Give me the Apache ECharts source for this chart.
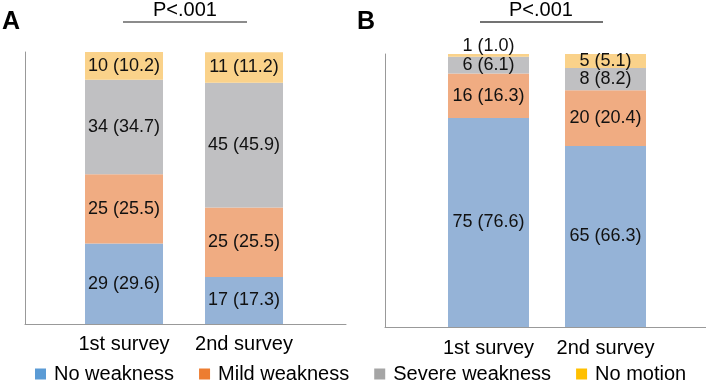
<!DOCTYPE html>
<html>
<head>
<meta charset="utf-8">
<script src="https://cdn.jsdelivr.net/npm/echarts@6/dist/echarts.min.js"></script>
<style>
  html, body { margin: 0; padding: 0; background: #fff; }
  #main { width: 706px; height: 381px; }
</style>
</head>
<body>
<div id="main"></div>
<script>
// data: n (%) per level, [1st survey, 2nd survey]
var categories = ['1st survey', '2nd survey'];
var levels = ['No weakness', 'Mild weakness', 'Severe weakness', 'No motion'];

var countsA = [[29, 17], [25, 25], [34, 45], [10, 11]];
var pctA = [[29.6, 17.3], [25.5, 25.5], [34.7, 45.9], [10.2, 11.2]];

var countsB = [[75, 65], [16, 20], [6, 8], [1, 5]];
var pctB = [[76.6, 66.3], [16.3, 20.4], [6.1, 8.2], [1.0, 5.1]];

var pText = 'P<.001';

var barColors = ['#95B3D7', '#F0AC82', '#C0C0C2', '#FAD28A'];
var legendColors = ['#5B9BD5', '#ED7D31', '#A5A5A5', '#FFC000'];
var font = 'Liberation Sans, Arial, sans-serif';

var chart = echarts.init(document.getElementById('main'));

// frame grids carry the axis lines, data grids carry the bars
var grids = [
  { left: 25, top: 52, width: 321, height: 272 },   // A frame
  { left: 64, top: 52, width: 240, height: 272 },   // A bars
  { left: 385, top: 54, width: 321, height: 273 },  // B frame
  { left: 430, top: 54, width: 234, height: 273 }   // B bars
];

function frameAxis(idx) {
  return {
    type: 'value', gridIndex: idx, min: 0, max: 1,
    axisLine: { show: true, lineStyle: { color: '#999', width: 1 } },
    axisTick: { show: false }, axisLabel: { show: false }, splitLine: { show: false }
  };
}
function catAxis(idx, margin) {
  return {
    type: 'category', gridIndex: idx, data: categories,
    axisLine: { show: false }, axisTick: { show: false },
    axisLabel: { interval: 0, fontSize: 20, color: '#000', fontFamily: font, margin: margin }
  };
}
function valAxis(idx) {
  return { type: 'value', gridIndex: idx, min: 0, max: 100, show: false };
}

function makeSeries(counts, pcts, axisIdx, stack, barWidth) {
  return levels.map(function (name, i) {
    return {
      name: name,
      type: 'bar',
      stack: stack,
      xAxisIndex: axisIdx,
      yAxisIndex: axisIdx,
      barWidth: barWidth,
      itemStyle: { color: barColors[i] },
      data: pcts[i].map(function (v) {
        var item = { value: v };
        if (v < 3) {
          // tiny segment: label sits above the bar
          item.label = { position: 'top', distance: -1 };
        }
        return item;
      }),
      label: {
        show: true,
        position: 'inside',
        fontSize: 18,
        color: '#111',
        fontFamily: font,
        formatter: function (p) {
          return counts[i][p.dataIndex] + ' (' + pcts[i][p.dataIndex].toFixed(1) + ')';
        }
      }
    };
  });
}

var series = makeSeries(countsA, pctA, 1, 'A', 78)
  .concat(makeSeries(countsB, pctB, 3, 'B', 81));

var option = {
  backgroundColor: '#fff',
  animation: false,
  grid: grids,
  xAxis: [frameAxis(0), catAxis(1, 10), frameAxis(2), catAxis(3, 11)],
  yAxis: [frameAxis(0), valAxis(1), frameAxis(2), valAxis(3)],
  legend: {
    left: 30,
    top: 359,
    icon: 'rect',
    itemWidth: 11,
    itemHeight: 11,
    itemGap: 25,
    selectedMode: false,
    textStyle: { fontSize: 20, color: '#000', fontFamily: font, padding: [0, 0, 0, 3] },
    data: levels.map(function (n, i) {
      return { name: n, itemStyle: { color: legendColors[i] } };
    })
  },
  graphic: [
    { type: 'text', left: 2, top: 10, style: { text: 'A', font: 'bold 25px ' + font, fill: '#000' } },
    { type: 'text', left: 357, top: 10, style: { text: 'B', font: 'bold 25px ' + font, fill: '#000' } },
    { type: 'text', x: 185, y: 10, style: { text: pText, font: '20px ' + font, fill: '#000', align: 'center', verticalAlign: 'middle' } },
    { type: 'text', x: 541, y: 10, style: { text: pText, font: '20px ' + font, fill: '#000', align: 'center', verticalAlign: 'middle' } },
    { type: 'line', shape: { x1: 123, y1: 22, x2: 247, y2: 22 }, style: { stroke: '#666', lineWidth: 1.5 } },
    { type: 'line', shape: { x1: 480, y1: 22, x2: 603, y2: 22 }, style: { stroke: '#444', lineWidth: 1.5 } }
  ],
  series: series
};

chart.setOption(option);
</script>
</body>
</html>
